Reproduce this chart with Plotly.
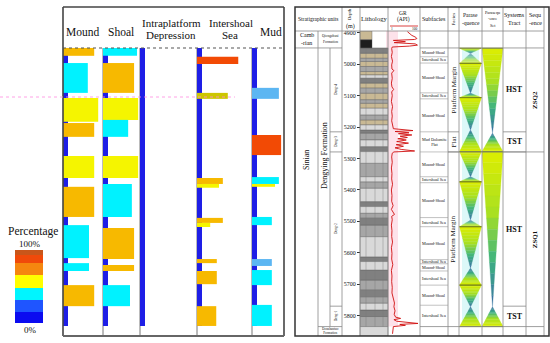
import plotly.graph_objects as go

W, H = 550, 343
def fx(x): return x / W
def fy(y): return 1 - y / H
SERIF = "Liberation Serif"

# ------------------------------------------------------------------ LEFT PANEL DATA
facies_names = ["Mound", "Shoal", "Intraplatform Depression", "Intershoal Sea", "Mud"]
bar_column = [0, 0, 0, 0, 0, 0, 0, 0, 0,
              1, 1, 1, 1, 1, 1, 1, 1, 1,
              3, 3, 3, 3, 3, 3, 3, 3, 3,
              4, 4, 4, 4, 4, 4, 4, 4]
bar_top = [4948, 4996, 5107, 5187, 5292, 5390, 5512, 5633, 5703,
           4948, 4996, 5107, 5177, 5292, 5381, 5521, 5639, 5703,
           4976, 5091, 5362, 5381, 5489, 5505, 5620, 5658, 5770,
           5075, 5225, 5359, 5381, 5486, 5620, 5655, 5766]
bar_bottom = [4973, 5091, 5183, 5231, 5362, 5486, 5617, 5658, 5770,
              4973, 5091, 5177, 5231, 5362, 5486, 5620, 5658, 5770,
              4999, 5110, 5381, 5393, 5505, 5518, 5633, 5700, 5833,
              5110, 5289, 5381, 5390, 5512, 5642, 5703, 5833]
bar_length_pct = [78, 62, 88, 78, 78, 78, 65, 65, 78,
                  92, 84, 95, 68, 95, 78, 84, 84, 73,
                  75, 56, 47, 40, 47, 24, 36, 36, 35,
                  84, 91, 84, 72, 62, 62, 62, 62]
bar_class = ["gold", "cyan", "yellow", "gold", "yellow", "gold", "cyan", "cyan", "gold",
             "cyan", "gold", "yellow", "cyan", "yellow", "cyan", "gold", "gold", "cyan",
             "red", "olive", "gold", "yellow", "gold", "yellow", "gold", "gold", "gold",
             "lblue", "red", "cyan", "yellow", "cyan", "lblue", "cyan", "cyan"]
strip_top, strip_bottom = 4948, 5833

legend_title = "Percentage"
legend_tick_labels = ["100%", "0%"]
legend_levels = [6, 5, 4, 3, 2, 1, 0]          # top to bottom

# ------------------------------------------------------------------ RIGHT PANEL DATA
depth_ticks = [4900, 5000, 5100, 5200, 5300, 5400, 5500, 5600, 5700, 5800]

subfacies_top = [4948, 4976, 4996, 5091, 5110, 5215, 5279, 5358, 5377, 5488,
                 5517, 5622, 5635, 5658, 5703, 5767]
subfacies_bottom = [4976, 4996, 5091, 5110, 5215, 5279, 5358, 5377, 5488, 5517,
                    5622, 5635, 5658, 5703, 5767, 5835]
subfacies_name = ["Mound-Shoal", "Intershoal Sea", "Mound-Shoal", "Intershoal Sea",
                  "Mound-Shoal", "Mud Dolomite<br>Flat", "Mound-Shoal", "Intershoal Sea",
                  "Mound-Shoal", "Intershoal Sea", "Mound-Shoal", "Intershoal Sea",
                  "Mound-Shoal", "Intershoal Sea", "Mound-Shoal", "Intershoal Sea"]

facies_top = [4948, 5215, 5279]
facies_bottom = [5215, 5279, 5835]
facies_name = ["Platform Margin", "Flat", "Platform Margin"]

tract_top = [4948, 5215, 5279, 5770]
tract_bottom = [5215, 5279, 5770, 5835]
tract_name = ["HST", "TST", "HST", "TST"]

sequence_top = [4948, 5279]
sequence_bottom = [5279, 5835]
sequence_name = ["ZSQ2", "ZSQ1"]

member_top = [4948, 5215, 5279, 5770]
member_bottom = [5215, 5279, 5770, 5835]
member_name = ["Deng-4", "Deng-3", "Deng-2", "Deng-1"]

lith_top = [4894, 4922, 4948, 4965, 4981, 4991, 5007, 5023, 5034, 5044, 5060, 5076,
            5092, 5113, 5124, 5140, 5161, 5177, 5193, 5209, 5219, 5241, 5262, 5278,
            5315, 5358, 5374, 5395, 5437, 5453, 5474, 5490, 5512, 5549, 5613, 5628,
            5655, 5687, 5719, 5740, 5761, 5782, 5803, 5835]
lith_bottom = lith_top[1:] + [5865]
lith_type = ["tan", "black", "dark", "tan", "gray", "tan", "gray", "tan", "light", "dark",
             "tan", "gray", "tan", "gray", "tan", "light", "gray", "tan", "light", "dark",
             "gray", "light", "dark", "light", "gray", "light", "gray", "light", "dark",
             "light", "gray", "dark", "gray", "light", "dark", "light", "dark", "gray",
             "dark", "gray", "light", "dark", "gray", "light"]
lith_partial = [True, True] + [False] * 42     # Cambrian beds drawn narrower

gr_depth = [4896, 4902, 4908, 4914, 4918, 4921, 4924, 4928, 4931, 4935,
            4939, 4942, 4945, 4950, 4962, 4975, 4990, 5002, 5015, 5020,
            5028, 5045, 5060, 5072, 5080, 5088, 5100, 5118, 5135, 5150,
            5165, 5180, 5195, 5205, 5211, 5214, 5218, 5221, 5225, 5229,
            5233, 5237, 5241, 5246, 5251, 5256, 5261, 5266, 5271, 5276,
            5279, 5283, 5295, 5312, 5330, 5348, 5365, 5382, 5400, 5418,
            5436, 5450, 5462, 5478, 5484, 5495, 5512, 5530, 5548, 5566,
            5584, 5602, 5620, 5638, 5656, 5674, 5692, 5710, 5728, 5745,
            5760, 5772, 5785, 5796, 5805, 5809, 5813, 5818, 5822, 5825,
            5828, 5831, 5835, 5845, 5858]
gr_value = [62, 70, 78, 92, 96, 88, 12, 55, 15, 90,
            98, 70, 8, 6, 8, 5, 9, 6, 7, 14,
            6, 8, 5, 7, 13, 6, 8, 5, 9, 6,
            8, 6, 9, 12, 82, 18, 68, 30, 78, 36,
            62, 28, 58, 24, 66, 22, 48, 18, 40, 88,
            14, 8, 6, 8, 5, 7, 6, 9, 5, 7,
            6, 11, 5, 16, 6, 8, 5, 7, 6, 9,
            5, 7, 6, 10, 5, 7, 6, 8, 7, 12,
            16, 14, 18, 15, 20, 38, 14, 24, 60, 100,
            35, 55, 12, 10, 9]

parasequence_vertex = [4949, 4965, 4997, 5092, 5106, 5209, 5278, 5358, 5374, 5496,
                       5517, 5649, 5703, 5772, 5835]     # wide, apex, wide, apex ...
paraseq_set_vertex = [4949, 5219, 5278, 5772, 5835]

# ------------------------------------------------------------------ STYLES / LAYOUT CONSTANTS
bar_colors = {"gold": "#f7b900", "cyan": "#00f2ff", "yellow": "#f5f500", "red": "#f24a05",
              "olive": "#cdc600", "lblue": "#5cb6f2"}
legend_colors = ["#0b0bf0", "#1f55ff", "#00f5ff", "#ffff00", "#f5870f", "#f04a0a", "#c9561a"]
legend_edges = [250, 255, 263, 275, 288, 300, 311.5, 323]
strip_color = "#1e1ee6"
col_x0 = [63, 103, 140, 197, 252]
col_w = [40, 37, 57, 55, 32]
strip_w = 5
lith_colors = {"tan": "#c9b994", "gray": "#a6a6a6", "dark": "#808080", "light": "#d9d9d9",
               "black": "#1e1e1e"}

fig = go.Figure()

# blue baseline strips
fig.add_trace(go.Bar(orientation="h", y=[(strip_top + strip_bottom) / 2] * 5,
                     width=[strip_bottom - strip_top] * 5, x=[strip_w] * 5, base=col_x0,
                     marker=dict(color=strip_color, line=dict(width=0)), showlegend=False,
                     hoverinfo="skip"))
# coloured percentage bars
fig.add_trace(go.Bar(orientation="h",
                     y=[(t + b) / 2 for t, b in zip(bar_top, bar_bottom)],
                     width=[b - t for t, b in zip(bar_top, bar_bottom)],
                     x=[p / 100 * col_w[c] for p, c in zip(bar_length_pct, bar_column)],
                     base=[col_x0[c] for c in bar_column],
                     marker=dict(color=[bar_colors[k] for k in bar_class], line=dict(width=0)),
                     showlegend=False, hoverinfo="skip"))

# colour legend
n = len(legend_colors)
cs = []
for i, c in enumerate(legend_colors):
    cs += [[i / n, c], [(i + 1) / n, c]]
fig.add_trace(go.Heatmap(x=[15, 43], y=legend_edges, z=[[v] for v in legend_levels],
                         colorscale=cs, zmin=-0.5, zmax=n - 0.5, showscale=False,
                         xaxis="x", yaxis="y2", hoverinfo="skip"))

# lithology
for kind in lith_colors:
    idx = [i for i, k in enumerate(lith_type) if k == kind]
    fig.add_trace(go.Bar(orientation="h",
                         y=[(lith_top[i] + lith_bottom[i]) / 2 for i in idx],
                         width=[lith_bottom[i] - lith_top[i] for i in idx],
                         x=[12 if lith_partial[i] else 28 for i in idx],
                         base=[360] * len(idx),
                         marker=dict(color=lith_colors[kind], line=dict(width=0.4, color="#555")),
                         showlegend=False, hoverinfo="skip"))

# GR curve
fig.add_trace(go.Scatter(x=gr_value, y=gr_depth, mode="lines", xaxis="x3", yaxis="y",
                         line=dict(color="#d01010", width=0.9), showlegend=False,
                         hoverinfo="skip"))

# gradient triangles
stops = [(0.0, (222, 238, 0)), (0.4, (168, 224, 34)), (0.7, (62, 180, 128)), (1.0, (58, 110, 165))]
def grad(t):
    for (t0, c0), (t1, c1) in zip(stops[:-1], stops[1:]):
        if t <= t1:
            u = (t - t0) / (t1 - t0)
            return "rgb(%d,%d,%d)" % tuple(round(a + (b - a) * u) for a, b in zip(c0, c1))
    return "rgb(%d,%d,%d)" % stops[-1][1]

NS = 14
def add_triangles(vertices, cx, half):
    xs_k = [[] for _ in range(NS)]
    ys_k = [[] for _ in range(NS)]
    edge_x, edge_y = [], []
    for i in range(len(vertices) - 1):
        wide, apex = (vertices[i], vertices[i + 1]) if i % 2 == 0 else (vertices[i + 1], vertices[i])
        edge_x += [cx - half, cx + half, None]
        edge_y += [wide, wide, None]
        for k in range(NS):
            t0, t1 = k / NS, (k + 1) / NS
            d0, d1 = wide + (apex - wide) * t0, wide + (apex - wide) * t1
            h0, h1 = half * (1 - t0), half * (1 - t1)
            xs_k[k] += [cx - h0, cx + h0, cx + h1, cx - h1, cx - h0, None]
            ys_k[k] += [d0, d0, d1, d1, d0, None]
    for k in range(NS):
        col = grad((k + 0.5) / NS)
        fig.add_trace(go.Scatter(x=xs_k[k], y=ys_k[k], mode="lines", fill="toself",
                                 fillcolor=col, line=dict(width=0.3, color=col),
                                 showlegend=False, hoverinfo="skip"))
    fig.add_trace(go.Scatter(x=edge_x, y=edge_y, mode="lines",
                             line=dict(color="#7b8a1e", width=1), showlegend=False,
                             hoverinfo="skip"))

add_triangles(parasequence_vertex, 470.5, 11)
add_triangles(paraseq_set_vertex, 492.5, 10.5)

# ------------------------------------------------------------------ SHAPES
shapes = []
def seg(x0, y0, x1, y1, yref="paper", color="#888", width=0.8, dash=None, layer="above"):
    if yref == "paper":
        y0, y1 = fy(y0), fy(y1)
    d = dict(type="line", xref="x", yref=yref, x0=x0, x1=x1, y0=y0, y1=y1, layer=layer,
             line=dict(color=color, width=width))
    if dash:
        d["line"]["dash"] = dash
    shapes.append(d)

def rect(x0, y0, x1, y1, color, yref="y"):
    shapes.append(dict(type="rect", xref="x", yref=yref, x0=x0, x1=x1, y0=y0, y1=y1,
                       fillcolor=color, line=dict(width=0), layer="below"))

rect(386, 4894, 398, 5835, "#fde2ea")
rect(462, 4948, 479, 5835, "#dcf8f8")

# left frame
for xs in col_x0[1:]:
    seg(xs, 48, xs, 336, color="#777", width=1, layer="below")
seg(63, 7, 63, 336, color="#444", width=1.6)
seg(63, 7, 284, 7, color="#444", width=1.6)
seg(284, 7, 284, 336, color="#444", width=1.6)
seg(63, 336, 284, 336, color="#666", width=2)
seg(63, 48, 284, 48, color="#555", width=1.2, dash="dot")
seg(0, 97, 235, 97, color="#ff8ce0", width=0.8, dash="dot")

# right table grid
for xs in [342, 360, 388, 420, 448, 459, 482, 503, 526, 544]:
    seg(xs, 7, xs, 336)
seg(318, 31, 318, 336)
seg(330, 4948, 330, 5835, yref="y")
seg(295, 31, 544, 31)
for (a, b) in [(295, 342), (420, 544)]:
    seg(a, 4948, b, 4948, yref="y")
for (a, b) in [(318, 342), (420, 544)]:
    seg(a, 5835, b, 5835, yref="y")
for d in member_top[1:]:
    seg(330, d, 342, d, yref="y")
for d in tract_top[1:]:
    seg(503, d, 526, d, yref="y")
for d in facies_top[1:]:
    seg(448, d, 459, d, yref="y")
for d in sequence_top[1:]:
    seg(448, d, 544, d, yref="y")
for d in subfacies_top[1:]:
    seg(420, d, 448, d, yref="y", color="#999", width=0.6)
for xs in [366, 375, 383]:
    seg(xs, 4948, xs, 5835, yref="y", color="#777", width=0.4)
seg(390, 26, 418, 26, color="#d01010", width=0.8)
shapes.append(dict(type="rect", xref="x", yref="paper", x0=295, x1=549, y0=fy(336), y1=fy(7),
                   line=dict(color="#333", width=1.5)))

# ------------------------------------------------------------------ TEXT
anns = []
def ann(text, x, y, size, yref="paper", angle=0, bold=False, color="#111"):
    if yref == "paper":
        y = fy(y)
    if bold:
        text = "<b>" + text + "</b>"
    anns.append(dict(text=text, x=x, y=y, xref="x", yref=yref, showarrow=False,
                     textangle=angle, xanchor="center", yanchor="middle", borderpad=0,
                     font=dict(family=SERIF, size=size, color=color)))

# left header
ann(facies_names[0], 82, 32, 11.5)
ann(facies_names[1], 121, 32, 11.5)
ann(facies_names[2].split()[0], 171, 23.5, 11)
ann(facies_names[2].split()[1], 171, 35.5, 11)
ann(facies_names[3].split()[0], 231, 23.5, 11)
ann(facies_names[3].split()[1], 230, 35.5, 11)
ann(facies_names[4], 271, 32, 11.5)
ann(legend_title, 33, 231, 11.5)
ann(legend_tick_labels[0], 30, 244, 9)
ann(legend_tick_labels[1], 30, 330, 9)

# right header
ann("Stratigraphic units", 318, 19, 5.5)
ann("Depth", 349, 14, 4.5, angle=-90)
ann("(m)", 350, 26, 6)
ann("Lithology", 374, 19, 6.5)
ann("GR", 403, 13, 5.5)
ann("(API)", 403, 20, 5.5)
ann("1", 392, 28.5, 3.5)
ann("100", 415, 28.5, 3.5)
ann("Subfacies", 434, 19, 6)
ann("Facies", 453.5, 19, 5, angle=-90)
ann("Parase", 470.5, 15, 5.5)
ann("-quence", 470.5, 23, 5.5)
ann("Parasequ", 492.5, 13, 4.2)
ann("-ence", 492.5, 19, 4.2)
ann("Set", 492.5, 25, 4.2)
ann("Systems", 514.5, 15, 6)
ann("Tract", 514.5, 23, 6)
ann("Sequ", 535, 15, 6)
ann("-ence", 535, 23, 6)
ann("Camb", 306.5, 35.5, 6)
ann("-rian", 306.5, 43, 6)
ann("Qiongzhusi", 330, 36, 3.6)
ann("Formation", 330, 42, 3.6)

ann("Sinian", 306, 5305, 8, yref="y", angle=-90)
ann("Dengying Formation", 324, 5292, 8, yref="y", angle=-90)
for t, b, nme in zip(member_top, member_bottom, member_name):
    ann(nme, 336, (t + b) / 2, 3.6, yref="y", angle=-90)
ann("Doushantuo<br>Formation", 330, 5850, 3.4, yref="y")
for t, b, nme in zip(subfacies_top, subfacies_bottom, subfacies_name):
    ann(nme, 434, (t + b) / 2, 4.2, yref="y")
for t, b, nme in zip(facies_top, facies_bottom, facies_name):
    ann(nme, 453.5, (t + b) / 2, 7, yref="y", angle=-90)
for t, b, nme in zip(tract_top, tract_bottom, tract_name):
    ann(nme, 514.5, (t + b) / 2, 8, yref="y", bold=True)
for t, b, nme in zip(sequence_top, sequence_bottom, sequence_name):
    ann(nme, 535, (t + b) / 2, 7, yref="y", angle=-90, bold=True)

fig.update_layout(
    width=W, height=H, margin=dict(l=0, r=0, t=0, b=0),
    paper_bgcolor="white", plot_bgcolor="rgba(0,0,0,0)",
    barmode="overlay", showlegend=False,
    xaxis=dict(domain=[0, 1], range=[0, W], visible=False, anchor="y"),
    xaxis3=dict(domain=[fx(390), fx(418)], range=[0, 100], visible=False, anchor="y"),
    yaxis=dict(domain=[fy(336), fy(31)], range=[5865, 4894], anchor="free",
               position=fx(360), side="left", tickvals=depth_ticks, ticks="outside",
               ticklen=3, tickwidth=0.8, tickcolor="#333", showgrid=False, zeroline=False,
               showline=False, tickfont=dict(family=SERIF, size=6, color="#111")),
    yaxis2=dict(overlaying="y", range=[336, 31], visible=False, anchor="x"),
    shapes=shapes, annotations=anns,
)

fig.write_html("out.html", config={"displayModeBar": False},
               post_script="document.body.style.margin='0';document.body.style.overflow='hidden';")
